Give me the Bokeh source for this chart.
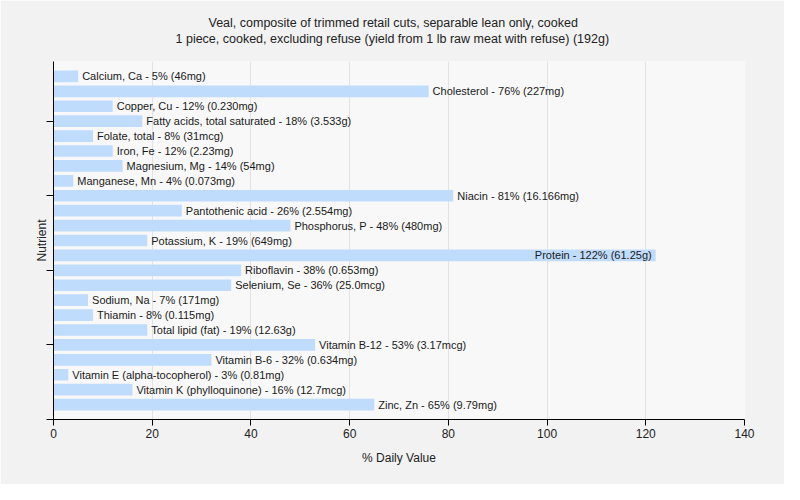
from bokeh.plotting import figure
from bokeh.models import ColumnDataSource, Range1d, FixedTicker, Title, CustomJSTickFormatter
from bokeh.embed import file_html
from bokeh.resources import INLINE
from bokeh.core.properties import value

nutrients = [
    "Calcium, Ca", "Cholesterol", "Copper, Cu", "Fatty acids, total saturated",
    "Folate, total", "Iron, Fe", "Magnesium, Mg", "Manganese, Mn", "Niacin",
    "Pantothenic acid", "Phosphorus, P", "Potassium, K", "Protein", "Riboflavin",
    "Selenium, Se", "Sodium, Na", "Thiamin", "Total lipid (fat)", "Vitamin B-12",
    "Vitamin B-6", "Vitamin E (alpha-tocopherol)", "Vitamin K (phylloquinone)",
    "Zinc, Zn",
]
percent_dv = [5, 76, 12, 18, 8, 12, 14, 4, 81, 26, 48, 19, 122, 38, 36, 7, 8, 19,
              53, 32, 3, 16, 65]
amounts = ["46mg", "227mg", "0.230mg", "3.533g", "31mcg", "2.23mg", "54mg",
           "0.073mg", "16.166mg", "2.554mg", "480mg", "649mg", "61.25g", "0.653mg",
           "25.0mcg", "171mg", "0.115mg", "12.63g", "3.17mcg", "0.634mg", "0.81mg",
           "12.7mcg", "9.79mg"]
x_ticks = [0, 20, 40, 60, 80, 100, 120, 140]
title_lines = ["Veal, composite of trimmed retail cuts, separable lean only, cooked",
               "1 piece, cooked, excluding refuse (yield from 1 lb raw meat with refuse) (192g)"]

FONT = "Liberation Sans"
idx = list(range(len(nutrients)))
labels = [f"{n} - {p}% ({a})" for n, p, a in zip(nutrients, percent_dv, amounts)]
inside = [p > 100 for p in percent_dv]
src = ColumnDataSource(dict(
    y=idx, v=percent_dv, label=labels,
    align=["right" if i else "left" for i in inside],
    xoff=[-4 if i else 4 for i in inside],
))

p = figure(width=784, height=484, output_backend="svg", toolbar_location=None,
           x_range=Range1d(0, 140), y_range=Range1d(23, -1),
           min_border_left=53, min_border_right=40, min_border_top=61,
           min_border_bottom=65)

# spacer between the title block and the frame
p.add_layout(Title(text=" ", text_font_size="1px", standoff=13), "above")
# two title lines, each centred on the page (frame starts at 53px)
title_offsets = [155, 122]
for line, off in reversed(list(zip(title_lines, title_offsets))):
    p.add_layout(Title(text=line, align="left", offset=off, text_font=FONT,
                       text_font_size="12.5px", text_font_style="normal",
                       text_color="#222222", standoff=0), "above")

p.background_fill_color = "#f8f8f8"
p.border_fill_color = "#f2f2f2"
p.outline_line_color = None

p.hbar(y="y", right="v", left=0, height=0.78, source=src,
       fill_color="#c0dcfc", line_color=None)
p.text(x="v", y="y", text="label", source=src, text_align="align",
       x_offset="xoff", text_baseline="middle", text_font=value(FONT),
       text_font_size="11px", text_color="#1a1a1a")

p.xaxis.ticker = FixedTicker(ticks=x_ticks)
p.xaxis.axis_label = "% Daily Value"
p.yaxis.axis_label = "Nutrient"
p.yaxis.ticker = FixedTicker(ticks=[3, 8, 13, 18, 23])
p.yaxis.formatter = CustomJSTickFormatter(code="return ''")
for ax in (p.xaxis[0], p.yaxis[0]):
    ax.axis_label_text_font = FONT
    ax.axis_label_text_font_size = "12px"
    ax.axis_label_text_font_style = "normal"
    ax.axis_label_text_color = "#222222"
    ax.major_label_text_font = FONT
    ax.major_label_text_font_size = "12px"
    ax.major_label_text_color = "#222222"
    ax.axis_line_color = "black"
    ax.major_tick_line_color = "black"
    ax.major_tick_in = 0
    ax.major_tick_out = 6
    ax.minor_tick_line_color = None
p.yaxis.major_tick_out = 7
p.yaxis.major_label_standoff = 0
p.yaxis.axis_label_standoff = -2
p.xaxis.major_label_standoff = 3
p.xaxis.axis_label_standoff = 10

p.xgrid.grid_line_color = "#e2e2e2"
p.ygrid.grid_line_color = None

open("out.html", "w").write(file_html(p, INLINE))
